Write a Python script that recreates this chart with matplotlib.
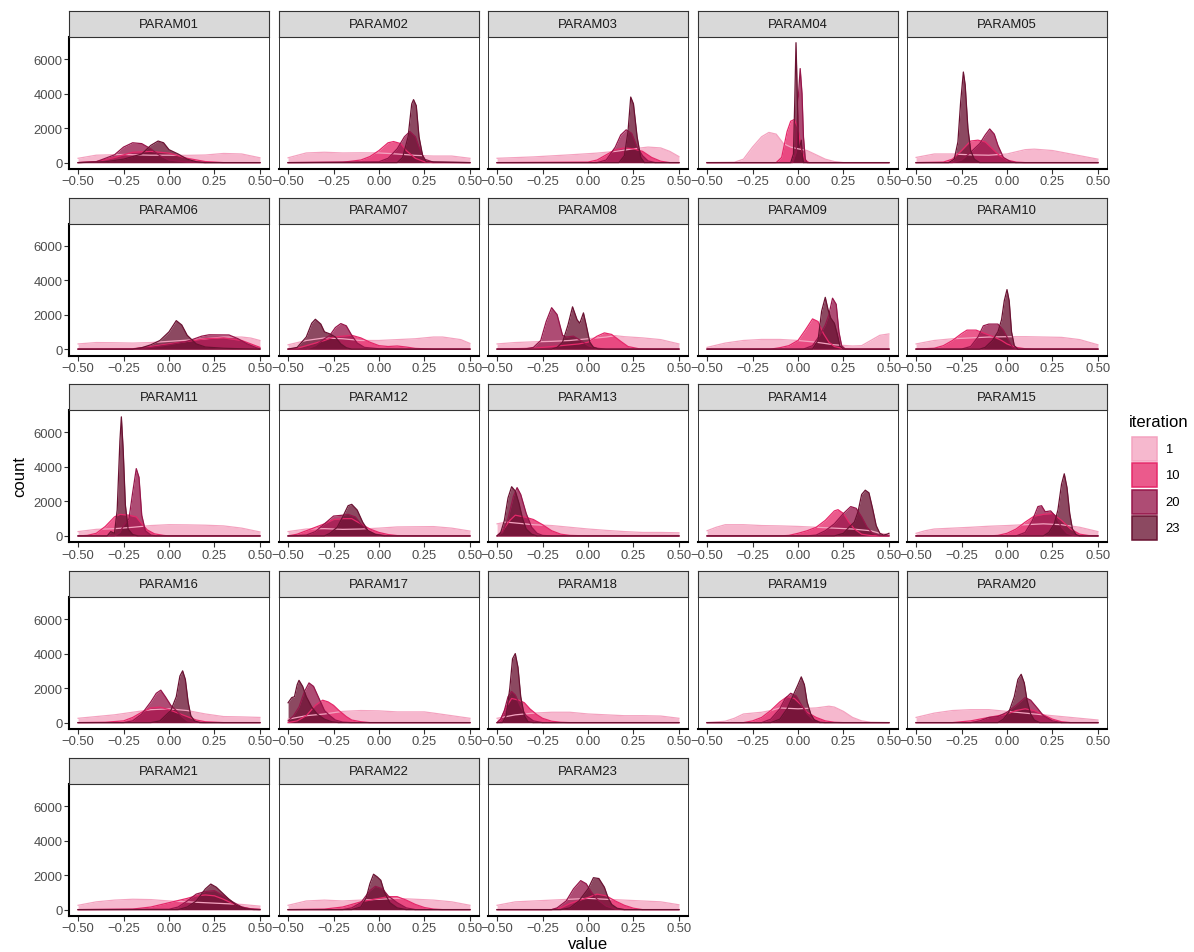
import matplotlib
matplotlib.use("Agg")
import matplotlib.pyplot as plt
from matplotlib.patches import Rectangle

plt.rcParams['font.family'] = ['Liberation Sans', 'DejaVu Sans']

iterations = ['1', '10', '20', '23']
colors = ['#F4A3C0', '#E6286A', '#96164A', '#6A1232']
fill_alpha = 0.77

x_ticks = [-0.5, -0.25, 0, 0.25, 0.5]
x_tick_labels = ['\u22120.50', '\u22120.25', '0.00', '0.25', '0.50']
y_ticks = [0, 2000, 4000, 6000]

names = ['PARAM01', 'PARAM02', 'PARAM03', 'PARAM04', 'PARAM05',
         'PARAM06', 'PARAM07', 'PARAM08', 'PARAM09', 'PARAM10',
         'PARAM11', 'PARAM12', 'PARAM13', 'PARAM14', 'PARAM15',
         'PARAM16', 'PARAM17', 'PARAM18', 'PARAM19', 'PARAM20',
         'PARAM21', 'PARAM22', 'PARAM23']

# density curves: (value, count) vertices per iteration
p01 = {
    '1': [(-0.5, 250), (-0.4, 430), (-0.25, 470), (-0.1, 430), (0, 430), (0.1, 420), (0.2, 440), (0.3, 530), (0.4, 500), (0.5, 280)],
    '10': [(-0.5, 0), (-0.4, 60), (-0.3, 300), (-0.2, 600), (-0.1, 650), (0, 550), (0.1, 250), (0.2, 60), (0.3, 0), (0.5, 0)],
    '20': [(-0.5, 0), (-0.4, 50), (-0.3, 450), (-0.25, 900), (-0.2, 1150), (-0.15, 1100), (-0.1, 800), (-0.05, 400), (0, 150), (0.1, 30), (0.2, 0), (0.5, 0)],
    '23': [(-0.5, 0), (-0.35, 50), (-0.25, 200), (-0.15, 500), (-0.1, 1000), (-0.06, 1250), (-0.03, 1150), (0, 750), (0.05, 500), (0.1, 200), (0.15, 50), (0.2, 0), (0.5, 0)],
}
p02 = {
    '1': [(-0.5, 280), (-0.4, 560), (-0.3, 600), (-0.2, 560), (-0.1, 570), (0, 560), (0.1, 500), (0.2, 420), (0.3, 380), (0.4, 380), (0.5, 250)],
    '10': [(-0.5, 0), (-0.2, 20), (-0.1, 150), (-0.05, 350), (0, 700), (0.05, 1150), (0.08, 1220), (0.12, 1100), (0.15, 700), (0.2, 250), (0.25, 50), (0.3, 0), (0.5, 0)],
    '20': [(-0.5, 0), (0, 50), (0.05, 250), (0.1, 800), (0.14, 1500), (0.17, 1800), (0.2, 1500), (0.22, 900), (0.25, 200), (0.3, 20), (0.5, 0)],
    '23': [(-0.5, 0), (0.1, 0), (0.13, 300), (0.16, 1500), (0.18, 3400), (0.19, 3650), (0.205, 3300), (0.22, 1500), (0.24, 400), (0.26, 50), (0.5, 0)],
}
p03 = {
    '1': [(-0.5, 250), (-0.3, 330), (-0.1, 450), (0.05, 550), (0.15, 650), (0.25, 800), (0.33, 900), (0.4, 850), (0.45, 650), (0.5, 350)],
    '10': [(-0.5, 0), (0, 30), (0.05, 150), (0.1, 450), (0.15, 750), (0.2, 850), (0.25, 800), (0.3, 650), (0.35, 300), (0.4, 80), (0.45, 0), (0.5, 0)],
    '20': [(-0.5, 0), (0.05, 0), (0.1, 150), (0.15, 900), (0.18, 1600), (0.21, 1900), (0.24, 1700), (0.27, 900), (0.3, 400), (0.33, 100), (0.37, 0), (0.5, 0)],
    '23': [(-0.5, 0), (0.17, 0), (0.2, 400), (0.22, 1800), (0.235, 3800), (0.25, 3400), (0.27, 1500), (0.29, 300), (0.31, 0), (0.5, 0)],
}
p04 = {
    '1': [(-0.5, 0), (-0.35, 20), (-0.3, 200), (-0.25, 900), (-0.2, 1500), (-0.16, 1750), (-0.12, 1650), (-0.08, 1100), (-0.04, 900), (0, 800), (0.05, 700), (0.1, 450), (0.15, 200), (0.2, 60), (0.25, 0), (0.5, 0)],
    '10': [(-0.5, 0), (-0.12, 0), (-0.09, 300), (-0.06, 1800), (-0.04, 2400), (-0.02, 2500), (0, 2000), (0.02, 700), (0.04, 150), (0.06, 0), (0.5, 0)],
    '20': [(-0.5, 0), (-0.03, 0), (-0.01, 600), (0, 3500), (0.012, 5450), (0.022, 4000), (0.03, 1500), (0.04, 200), (0.05, 0), (0.5, 0)],
    '23': [(-0.5, 0), (-0.04, 0), (-0.025, 500), (-0.018, 3500), (-0.011, 6950), (-0.004, 4000), (0.003, 900), (0.01, 900), (0.018, 1300), (0.025, 300), (0.03, 0), (0.5, 0)],
}
p05 = {
    '1': [(-0.5, 300), (-0.4, 500), (-0.3, 500), (-0.2, 450), (-0.1, 430), (0, 500), (0.1, 750), (0.15, 780), (0.25, 700), (0.35, 500), (0.45, 300), (0.5, 200)],
    '10': [(-0.5, 0), (-0.35, 30), (-0.3, 200), (-0.25, 700), (-0.2, 1250), (-0.16, 1300), (-0.12, 1200), (-0.08, 800), (-0.04, 400), (0, 150), (0.05, 30), (0.1, 0), (0.5, 0)],
    '20': [(-0.5, 0), (-0.3, 0), (-0.25, 150), (-0.2, 600), (-0.15, 1100), (-0.12, 1600), (-0.095, 1950), (-0.07, 1650), (-0.05, 1000), (-0.02, 300), (0.02, 50), (0.05, 0), (0.5, 0)],
    '23': [(-0.5, 0), (-0.32, 0), (-0.29, 200), (-0.27, 1200), (-0.255, 3500), (-0.24, 5250), (-0.23, 4500), (-0.215, 2000), (-0.2, 700), (-0.18, 200), (-0.15, 0), (0.5, 0)],
}
p06 = {
    '1': [(-0.5, 300), (-0.4, 380), (-0.3, 370), (-0.2, 350), (-0.1, 380), (0, 450), (0.1, 520), (0.2, 600), (0.3, 700), (0.4, 700), (0.45, 640), (0.5, 500)],
    '10': [(-0.5, 0), (-0.2, 20), (-0.1, 150), (0, 300), (0.1, 450), (0.2, 600), (0.3, 650), (0.4, 500), (0.45, 300), (0.5, 100)],
    '20': [(-0.5, 0), (-0.2, 0), (-0.1, 100), (0, 250), (0.1, 450), (0.18, 750), (0.22, 830), (0.33, 820), (0.38, 600), (0.43, 300), (0.48, 80), (0.5, 20)],
    '23': [(-0.5, 0), (-0.2, 0), (-0.15, 80), (-0.1, 250), (-0.05, 500), (0, 1000), (0.04, 1650), (0.07, 1400), (0.1, 800), (0.15, 300), (0.2, 120), (0.3, 50), (0.4, 20), (0.5, 0)],
}
p07 = {
    '1': [(-0.5, 250), (-0.4, 500), (-0.3, 650), (-0.2, 600), (-0.1, 500), (0, 500), (0.1, 550), (0.2, 600), (0.3, 700), (0.35, 700), (0.45, 550), (0.5, 330)],
    '10': [(-0.5, 0), (-0.45, 50), (-0.4, 200), (-0.3, 500), (-0.25, 700), (-0.15, 800), (-0.1, 650), (-0.05, 400), (0, 200), (0.05, 150), (0.1, 180), (0.15, 120), (0.2, 40), (0.3, 0), (0.5, 0)],
    '20': [(-0.5, 0), (-0.4, 0), (-0.35, 200), (-0.3, 600), (-0.27, 800), (-0.24, 1250), (-0.21, 1480), (-0.18, 1350), (-0.15, 800), (-0.12, 350), (-0.08, 100), (0, 20), (0.1, 0), (0.5, 0)],
    '23': [(-0.5, 0), (-0.45, 100), (-0.4, 700), (-0.37, 1500), (-0.35, 1730), (-0.32, 1450), (-0.3, 1000), (-0.27, 880), (-0.24, 700), (-0.21, 300), (-0.18, 80), (-0.15, 0), (0.5, 0)],
}
p08 = {
    '1': [(-0.5, 300), (-0.4, 380), (-0.3, 420), (-0.2, 450), (-0.1, 500), (0, 600), (0.1, 700), (0.15, 780), (0.2, 720), (0.3, 650), (0.4, 550), (0.5, 300)],
    '10': [(-0.5, 0), (-0.3, 50), (-0.2, 150), (-0.1, 250), (-0.05, 300), (0, 400), (0.05, 750), (0.09, 940), (0.13, 850), (0.18, 450), (0.22, 150), (0.28, 20), (0.35, 0), (0.5, 0)],
    '20': [(-0.5, 0), (-0.35, 0), (-0.3, 100), (-0.26, 500), (-0.23, 1600), (-0.2, 2400), (-0.17, 2000), (-0.14, 800), (-0.12, 700), (-0.08, 750), (-0.04, 500), (0, 200), (0.05, 50), (0.1, 0), (0.5, 0)],
    '23': [(-0.5, 0), (-0.2, 0), (-0.17, 100), (-0.14, 400), (-0.11, 1400), (-0.085, 2450), (-0.06, 1700), (-0.045, 1500), (-0.025, 2100), (-0.01, 1400), (0.01, 400), (0.03, 100), (0.06, 0), (0.5, 0)],
}
p09 = {
    '1': [(-0.5, 100), (-0.4, 350), (-0.3, 500), (-0.2, 560), (-0.1, 560), (0, 500), (0.1, 400), (0.2, 250), (0.3, 180), (0.35, 200), (0.4, 500), (0.45, 800), (0.5, 880)],
    '10': [(-0.5, 0), (-0.15, 0), (-0.1, 80), (-0.05, 200), (0, 500), (0.04, 1100), (0.08, 1750), (0.11, 1600), (0.14, 900), (0.17, 400), (0.2, 150), (0.25, 30), (0.3, 0), (0.5, 0)],
    '20': [(-0.5, 0), (0.03, 0), (0.08, 200), (0.12, 800), (0.15, 1400), (0.17, 2000), (0.19, 2950), (0.21, 2600), (0.225, 1000), (0.24, 200), (0.26, 0), (0.5, 0)],
    '23': [(-0.5, 0), (0.08, 0), (0.11, 500), (0.13, 2200), (0.15, 3000), (0.165, 2300), (0.18, 1800), (0.2, 1500), (0.215, 900), (0.23, 200), (0.25, 0), (0.5, 0)],
}
p10 = {
    '1': [(-0.5, 300), (-0.4, 500), (-0.3, 600), (-0.2, 650), (-0.1, 700), (0, 720), (0.1, 720), (0.2, 700), (0.3, 680), (0.4, 550), (0.45, 400), (0.5, 250)],
    '10': [(-0.5, 0), (-0.4, 50), (-0.35, 200), (-0.3, 500), (-0.25, 900), (-0.22, 1100), (-0.17, 1100), (-0.12, 900), (-0.07, 700), (-0.03, 500), (0, 300), (0.05, 100), (0.1, 20), (0.15, 0), (0.5, 0)],
    '20': [(-0.5, 0), (-0.25, 0), (-0.2, 150), (-0.16, 700), (-0.13, 1350), (-0.1, 1450), (-0.05, 1450), (-0.02, 1100), (0.01, 500), (0.03, 100), (0.06, 0), (0.5, 0)],
    '23': [(-0.5, 0), (-0.15, 0), (-0.12, 100), (-0.08, 500), (-0.05, 1000), (-0.03, 1700), (-0.015, 2800), (0, 3450), (0.012, 2800), (0.025, 1000), (0.04, 200), (0.06, 0), (0.5, 0)],
}
p11 = {
    '1': [(-0.5, 250), (-0.4, 380), (-0.3, 420), (-0.2, 500), (-0.1, 600), (0, 650), (0.1, 640), (0.2, 620), (0.3, 580), (0.4, 450), (0.5, 230)],
    '10': [(-0.5, 0), (-0.45, 30), (-0.4, 150), (-0.35, 550), (-0.3, 1100), (-0.27, 1250), (-0.22, 1200), (-0.18, 1100), (-0.15, 700), (-0.12, 350), (-0.08, 120), (-0.03, 30), (0, 0), (0.5, 0)],
    '20': [(-0.5, 0), (-0.3, 0), (-0.27, 200), (-0.25, 600), (-0.22, 1000), (-0.2, 2500), (-0.18, 3900), (-0.165, 3400), (-0.15, 1200), (-0.13, 300), (-0.1, 50), (-0.07, 0), (0.5, 0)],
    '23': [(-0.5, 0), (-0.34, 0), (-0.32, 250), (-0.3, 150), (-0.285, 1500), (-0.27, 5500), (-0.262, 6900), (-0.252, 5000), (-0.24, 1800), (-0.225, 400), (-0.2, 80), (-0.17, 0), (0.5, 0)],
}
p12 = {
    '1': [(-0.5, 250), (-0.4, 400), (-0.3, 420), (-0.2, 380), (-0.1, 400), (0, 450), (0.1, 520), (0.2, 530), (0.3, 540), (0.4, 450), (0.5, 280)],
    '10': [(-0.5, 0), (-0.45, 100), (-0.4, 300), (-0.3, 700), (-0.25, 950), (-0.2, 1000), (-0.15, 1000), (-0.1, 700), (-0.05, 400), (0, 200), (0.05, 80), (0.1, 20), (0.2, 0), (0.5, 0)],
    '20': [(-0.5, 0), (-0.4, 50), (-0.35, 250), (-0.3, 700), (-0.25, 1150), (-0.2, 1200), (-0.17, 1250), (-0.13, 1100), (-0.1, 700), (-0.06, 300), (-0.02, 100), (0.03, 20), (0.1, 0), (0.5, 0)],
    '23': [(-0.5, 0), (-0.3, 0), (-0.27, 150), (-0.23, 500), (-0.2, 1100), (-0.17, 1750), (-0.15, 1830), (-0.12, 1500), (-0.09, 800), (-0.06, 300), (-0.02, 80), (0.03, 0), (0.5, 0)],
}
p13 = {
    '1': [(-0.5, 700), (-0.45, 800), (-0.4, 750), (-0.3, 650), (-0.2, 600), (-0.1, 500), (0, 400), (0.1, 320), (0.2, 250), (0.3, 200), (0.4, 200), (0.5, 180)],
    '10': [(-0.5, 0), (-0.47, 300), (-0.43, 900), (-0.4, 1200), (-0.35, 1100), (-0.3, 950), (-0.25, 650), (-0.2, 300), (-0.15, 100), (-0.1, 30), (0, 0), (0.5, 0)],
    '20': [(-0.5, 0), (-0.47, 200), (-0.44, 1000), (-0.41, 2300), (-0.39, 2800), (-0.37, 2400), (-0.34, 1300), (-0.31, 500), (-0.28, 150), (-0.25, 30), (-0.2, 0), (0.5, 0)],
    '23': [(-0.5, 0), (-0.48, 200), (-0.46, 900), (-0.44, 2200), (-0.42, 2850), (-0.4, 2600), (-0.38, 1900), (-0.36, 1000), (-0.34, 400), (-0.31, 100), (-0.28, 0), (0.5, 0)],
}
p14 = {
    '1': [(-0.5, 300), (-0.45, 500), (-0.4, 650), (-0.3, 650), (-0.2, 600), (-0.1, 580), (0, 550), (0.1, 500), (0.2, 450), (0.3, 400), (0.4, 300), (0.45, 150), (0.5, 80)],
    '10': [(-0.5, 0), (-0.1, 0), (-0.05, 30), (0, 150), (0.05, 300), (0.1, 500), (0.15, 900), (0.2, 1450), (0.22, 1520), (0.25, 1300), (0.28, 800), (0.31, 400), (0.35, 100), (0.4, 20), (0.45, 0), (0.5, 0)],
    '20': [(-0.5, 0), (0.05, 0), (0.1, 50), (0.15, 300), (0.2, 700), (0.25, 1300), (0.29, 1700), (0.32, 1600), (0.35, 1100), (0.38, 500), (0.41, 150), (0.45, 20), (0.5, 0)],
    '23': [(-0.5, 0), (0.2, 0), (0.25, 150), (0.28, 500), (0.31, 800), (0.33, 1400), (0.35, 2400), (0.37, 2650), (0.39, 2500), (0.41, 1600), (0.43, 600), (0.45, 150), (0.47, 50), (0.49, 100), (0.5, 150)],
}
p15 = {
    '1': [(-0.5, 150), (-0.45, 300), (-0.4, 400), (-0.3, 450), (-0.2, 500), (-0.1, 560), (0, 600), (0.1, 650), (0.2, 700), (0.3, 650), (0.4, 500), (0.5, 250)],
    '10': [(-0.5, 0), (-0.1, 0), (-0.05, 30), (0, 150), (0.05, 400), (0.1, 800), (0.15, 1150), (0.2, 1250), (0.25, 1300), (0.3, 900), (0.35, 400), (0.4, 100), (0.45, 20), (0.5, 0)],
    '20': [(-0.5, 0), (0.05, 0), (0.1, 200), (0.14, 900), (0.17, 1700), (0.19, 1750), (0.21, 1400), (0.24, 1450), (0.27, 1100), (0.3, 500), (0.33, 150), (0.37, 20), (0.42, 0), (0.5, 0)],
    '23': [(-0.5, 0), (0.2, 0), (0.23, 200), (0.26, 700), (0.28, 1500), (0.3, 3000), (0.315, 3600), (0.33, 2800), (0.345, 1300), (0.36, 400), (0.38, 80), (0.4, 0), (0.5, 0)],
}
p16 = {
    '1': [(-0.5, 250), (-0.4, 350), (-0.3, 450), (-0.2, 600), (-0.1, 750), (0, 800), (0.1, 700), (0.2, 500), (0.3, 350), (0.4, 330), (0.5, 300)],
    '10': [(-0.5, 0), (-0.35, 20), (-0.25, 100), (-0.2, 300), (-0.15, 600), (-0.1, 850), (-0.05, 900), (0, 750), (0.05, 550), (0.1, 350), (0.15, 150), (0.2, 50), (0.3, 0), (0.5, 0)],
    '20': [(-0.5, 0), (-0.25, 0), (-0.2, 100), (-0.15, 500), (-0.1, 1200), (-0.07, 1700), (-0.045, 1880), (-0.02, 1500), (0.01, 1000), (0.04, 700), (0.07, 350), (0.1, 100), (0.15, 20), (0.2, 0), (0.5, 0)],
    '23': [(-0.5, 0), (-0.1, 0), (-0.05, 100), (-0.02, 400), (0.01, 700), (0.04, 1500), (0.06, 2700), (0.075, 3000), (0.09, 2500), (0.105, 1200), (0.12, 400), (0.14, 100), (0.17, 0), (0.5, 0)],
}
p17 = {
    '1': [(-0.5, 200), (-0.4, 400), (-0.3, 500), (-0.2, 650), (-0.1, 700), (0, 680), (0.1, 620), (0.2, 620), (0.25, 620), (0.3, 550), (0.4, 400), (0.5, 250)],
    '10': [(-0.5, 0), (-0.45, 100), (-0.4, 400), (-0.35, 1000), (-0.31, 1300), (-0.28, 1200), (-0.25, 1000), (-0.22, 700), (-0.18, 350), (-0.15, 150), (-0.1, 50), (-0.05, 0), (0.5, 0)],
    '20': [(-0.5, 100), (-0.47, 400), (-0.44, 900), (-0.41, 1800), (-0.385, 2300), (-0.36, 2100), (-0.33, 1400), (-0.3, 700), (-0.27, 400), (-0.24, 150), (-0.2, 30), (-0.15, 0), (0.5, 0)],
    '23': [(-0.5, 1150), (-0.49, 1300), (-0.48, 1450), (-0.465, 1500), (-0.45, 2200), (-0.44, 2450), (-0.42, 2100), (-0.4, 1500), (-0.37, 900), (-0.34, 500), (-0.3, 200), (-0.26, 50), (-0.22, 0), (0.5, 0)],
}
p18 = {
    '1': [(-0.5, 250), (-0.45, 350), (-0.4, 450), (-0.3, 550), (-0.2, 600), (-0.1, 600), (0, 500), (0.1, 450), (0.2, 400), (0.3, 400), (0.4, 380), (0.5, 250)],
    '10': [(-0.5, 0), (-0.48, 200), (-0.45, 900), (-0.42, 1400), (-0.38, 1300), (-0.35, 1150), (-0.32, 800), (-0.28, 450), (-0.25, 250), (-0.2, 80), (-0.15, 20), (-0.1, 0), (0.5, 0)],
    '20': [(-0.5, 0), (-0.48, 200), (-0.46, 700), (-0.44, 1500), (-0.42, 1800), (-0.4, 1600), (-0.37, 900), (-0.34, 400), (-0.3, 100), (-0.25, 0), (0.5, 0)],
    '23': [(-0.5, 0), (-0.47, 0), (-0.45, 400), (-0.43, 2000), (-0.415, 3700), (-0.4, 4000), (-0.385, 3200), (-0.37, 1500), (-0.35, 400), (-0.33, 50), (-0.3, 0), (0.5, 0)],
}
p19 = {
    '1': [(-0.5, 0), (-0.4, 80), (-0.35, 250), (-0.3, 500), (-0.25, 550), (-0.2, 600), (-0.15, 700), (-0.1, 850), (0, 800), (0.1, 850), (0.17, 950), (0.2, 900), (0.25, 650), (0.3, 300), (0.35, 100), (0.4, 20), (0.5, 0)],
    '10': [(-0.5, 0), (-0.3, 0), (-0.25, 100), (-0.2, 300), (-0.15, 700), (-0.1, 1200), (-0.06, 1500), (-0.02, 1400), (0.02, 1000), (0.05, 600), (0.1, 300), (0.15, 100), (0.2, 20), (0.25, 0), (0.5, 0)],
    '20': [(-0.5, 0), (-0.2, 0), (-0.15, 200), (-0.1, 800), (-0.07, 1400), (-0.04, 1700), (-0.01, 1550), (0.02, 1000), (0.05, 500), (0.08, 200), (0.12, 30), (0.15, 0), (0.5, 0)],
    '23': [(-0.5, 0), (-0.15, 0), (-0.1, 200), (-0.06, 800), (-0.03, 1500), (0, 2200), (0.018, 2650), (0.035, 2200), (0.05, 1200), (0.07, 500), (0.09, 150), (0.12, 0), (0.5, 0)],
}
p20 = {
    '1': [(-0.5, 300), (-0.4, 550), (-0.3, 700), (-0.2, 750), (-0.1, 750), (0, 650), (0.1, 550), (0.2, 450), (0.3, 350), (0.4, 250), (0.5, 150)],
    '10': [(-0.5, 0), (-0.3, 0), (-0.2, 100), (-0.1, 300), (-0.05, 400), (0, 500), (0.05, 700), (0.1, 800), (0.15, 700), (0.2, 450), (0.25, 200), (0.3, 50), (0.35, 0), (0.5, 0)],
    '20': [(-0.5, 0), (-0.2, 0), (-0.15, 100), (-0.1, 300), (-0.05, 350), (0, 600), (0.05, 1000), (0.1, 1450), (0.13, 1300), (0.17, 800), (0.2, 400), (0.25, 100), (0.3, 0), (0.5, 0)],
    '23': [(-0.5, 0), (-0.05, 0), (-0.02, 200), (0.01, 600), (0.04, 1500), (0.06, 2500), (0.078, 2800), (0.095, 2300), (0.11, 1300), (0.13, 500), (0.15, 150), (0.18, 0), (0.5, 0)],
}
p21 = {
    '1': [(-0.5, 250), (-0.4, 450), (-0.3, 550), (-0.2, 600), (-0.1, 580), (0, 500), (0.1, 450), (0.2, 400), (0.3, 350), (0.4, 300), (0.5, 200)],
    '10': [(-0.5, 0), (-0.2, 30), (-0.1, 150), (0, 400), (0.1, 650), (0.15, 800), (0.2, 850), (0.25, 800), (0.3, 600), (0.35, 350), (0.4, 150), (0.45, 50), (0.5, 20)],
    '20': [(-0.5, 0), (0, 20), (0.05, 150), (0.1, 500), (0.15, 900), (0.2, 1050), (0.25, 1100), (0.3, 800), (0.35, 450), (0.4, 150), (0.45, 30), (0.5, 0)],
    '23': [(-0.5, 0), (0.05, 0), (0.1, 150), (0.15, 500), (0.2, 1200), (0.23, 1480), (0.26, 1300), (0.3, 900), (0.33, 600), (0.37, 250), (0.42, 50), (0.47, 0), (0.5, 0)],
}
p22 = {
    '1': [(-0.5, 250), (-0.4, 500), (-0.3, 550), (-0.2, 500), (-0.1, 550), (0, 600), (0.1, 650), (0.2, 600), (0.3, 550), (0.4, 450), (0.5, 250)],
    '10': [(-0.5, 0), (-0.3, 30), (-0.2, 150), (-0.1, 450), (0, 650), (0.05, 750), (0.1, 750), (0.15, 550), (0.2, 300), (0.25, 120), (0.3, 30), (0.35, 0), (0.5, 0)],
    '20': [(-0.5, 0), (-0.2, 0), (-0.15, 100), (-0.1, 400), (-0.05, 1100), (-0.02, 1350), (0.02, 1200), (0.05, 800), (0.1, 400), (0.15, 100), (0.2, 0), (0.5, 0)],
    '23': [(-0.5, 0), (-0.15, 0), (-0.1, 150), (-0.07, 700), (-0.05, 1500), (-0.03, 2050), (-0.01, 1900), (0.01, 1700), (0.03, 1000), (0.06, 400), (0.1, 100), (0.15, 0), (0.5, 0)],
}
p23 = {
    '1': [(-0.5, 250), (-0.4, 450), (-0.3, 500), (-0.2, 550), (-0.1, 600), (0, 650), (0.1, 600), (0.2, 550), (0.3, 500), (0.4, 450), (0.5, 280)],
    '10': [(-0.5, 0), (-0.2, 0), (-0.15, 100), (-0.1, 350), (0, 700), (0.05, 900), (0.1, 800), (0.15, 500), (0.2, 250), (0.25, 80), (0.3, 0), (0.5, 0)],
    '20': [(-0.5, 0), (-0.2, 0), (-0.17, 100), (-0.12, 500), (-0.08, 1200), (-0.04, 1680), (-0.01, 1500), (0.02, 1000), (0.05, 600), (0.1, 200), (0.15, 30), (0.2, 0), (0.5, 0)],
    '23': [(-0.5, 0), (-0.15, 0), (-0.1, 100), (-0.05, 500), (0, 1200), (0.03, 1850), (0.06, 1800), (0.09, 1300), (0.11, 700), (0.13, 300), (0.16, 80), (0.2, 0), (0.5, 0)],
}
params = [p01, p02, p03, p04, p05, p06, p07, p08, p09, p10, p11, p12,
          p13, p14, p15, p16, p17, p18, p19, p20, p21, p22, p23]

# layout in pixels
W, H = 1194, 953
col_left = [69, 279, 488, 698, 907]
row_top = [38, 224.5, 411.3, 598, 785]
panel_w, panel_h, strip_h = 200, 132, 26
small_fs = 9.4
title_fs = 12.0

fig = plt.figure(figsize=(W / 100, H / 100), dpi=100)


def px_axes(left, top, w, h):
    return fig.add_axes([left / W, 1 - (top + h) / H, w / W, h / H])


for i, (name, curves) in enumerate(zip(names, params)):
    r, c = divmod(i, 5)
    ax = px_axes(col_left[c], row_top[r], panel_w, panel_h)
    for it, col in zip(iterations, colors):
        xs = [p[0] for p in curves[it]]
        ys = [p[1] for p in curves[it]]
        ax.fill_between(xs, ys, 0, color=col, alpha=fill_alpha, linewidth=0)
        ax.plot(xs, ys, color=col, lw=0.9, solid_joinstyle='round')
    ax.set_xlim(-0.55, 0.55)
    ax.set_ylim(-370, 7280)
    ax.set_xticks(x_ticks)
    ax.set_xticklabels(x_tick_labels)
    ax.set_yticks(y_ticks)
    if c == 0:
        ax.set_yticklabels([str(v) for v in y_ticks])
        ax.tick_params(axis='y', length=3.3, width=0.8, color='#333333',
                       labelsize=small_fs, labelcolor='#4D4D4D', pad=1.5)
    else:
        ax.tick_params(axis='y', left=False, labelleft=False)
    ax.tick_params(axis='x', length=3.3, width=0.8, color='#333333',
                   labelsize=small_fs, labelcolor='#4D4D4D', pad=1.2)
    for s in ['top', 'right', 'left']:
        ax.spines[s].set_color('#333333')
        ax.spines[s].set_linewidth(0.7)
    ax.spines['bottom'].set_color('black')
    ax.spines['bottom'].set_linewidth(1.5)
    if c == 0:
        ax.spines['left'].set_color('black')
        ax.spines['left'].set_linewidth(1.5)

    sax = px_axes(col_left[c], row_top[r] - strip_h, panel_w, strip_h)
    sax.set_facecolor('#D9D9D9')
    sax.set_xticks([])
    sax.set_yticks([])
    for s in sax.spines.values():
        s.set_color('#333333')
        s.set_linewidth(0.8)
    sax.text(0.5, 0.5, name, ha='center', va='center', fontsize=small_fs,
             color='#1A1A1A', transform=sax.transAxes)

fig.text(588 / W, 1 - 945 / H, 'value', ha='center', va='center', fontsize=title_fs)
fig.text(20 / W, 1 - 477 / H, 'count', ha='center', va='center', fontsize=title_fs,
         rotation=90)

# legend
lax = fig.add_axes([0, 0, 1, 1])
lax.set_xlim(0, W)
lax.set_ylim(H, 0)
lax.axis('off')
lax.text(1129, 423, 'iteration', ha='left', va='center', fontsize=title_fs)
key_top = 437
for k, (it, col) in enumerate(zip(iterations, colors)):
    y0 = key_top + k * 26.3
    lax.add_patch(Rectangle((1132, y0 + 1), 25, 24, facecolor=col, alpha=fill_alpha,
                            edgecolor='none'))
    lax.add_patch(Rectangle((1132, y0 + 1), 25, 24, facecolor='none', edgecolor=col,
                            lw=1.1))
    lax.text(1165, y0 + 13, it, ha='left', va='center', fontsize=small_fs, color='black')

fig.savefig('out.png', dpi=100)
